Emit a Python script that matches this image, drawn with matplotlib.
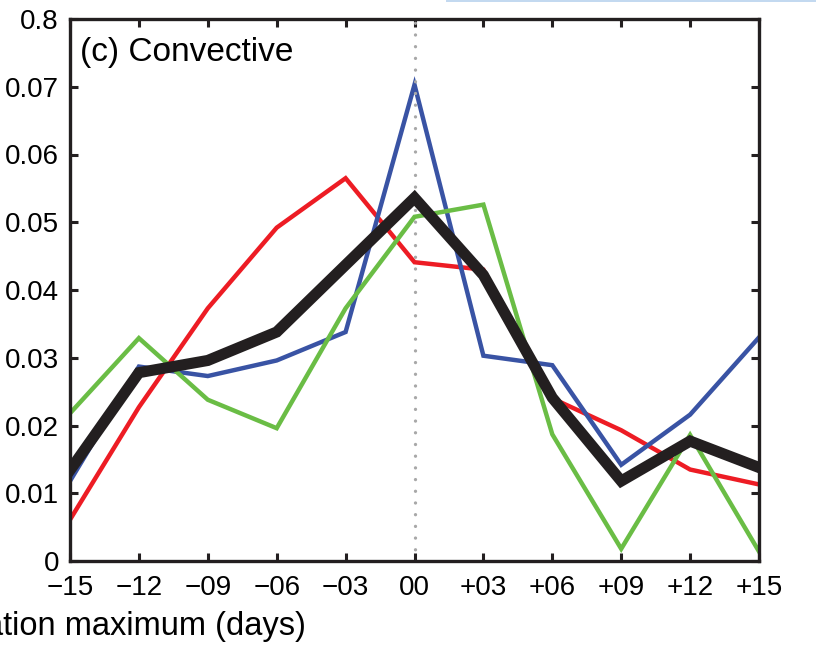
import matplotlib
matplotlib.use("Agg")
import matplotlib.pyplot as plt
from matplotlib.lines import Line2D

plt.rcParams['font.family'] = ['Liberation Sans', 'DejaVu Sans']

# Composite lag (days) relative to the precipitation maximum
days = [-15, -12, -9, -6, -3, 0, 3, 6, 9, 12, 15]
xtick_labels = ['\u221215', '\u221212', '\u221209', '\u221206', '\u221203', '00',
                '+03', '+06', '+09', '+12', '+15']
ytick_values = [0, 0.01, 0.02, 0.03, 0.04, 0.05, 0.06, 0.07, 0.08]
ytick_labels = ['0', '0.01', '0.02', '0.03', '0.04', '0.05', '0.06', '0.07', '0.8']

red_vals = [0.0061, 0.0227, 0.0373, 0.0492, 0.0565, 0.0441, 0.0430, 0.0240, 0.0193, 0.0135, 0.0113]
blue_vals = [0.0118, 0.0287, 0.0273, 0.0296, 0.0338, 0.0703, 0.0303, 0.0289, 0.0142, 0.0216, 0.0330]
green_vals = [0.0218, 0.0329, 0.0238, 0.0196, 0.0373, 0.0508, 0.0526, 0.0187, 0.0018, 0.0186, 0.0014]
mean_vals = [0.0134, 0.0278, 0.0296, 0.0338, 0.0437, 0.0536, 0.0422, 0.0241, 0.0118, 0.0177, 0.0138]

panel_title = '(c) Convective'
xlabel_text = 'ation maximum (days)'

W, H = 816, 645
fig = plt.figure(figsize=(W / 100, H / 100), dpi=100)
ax = fig.add_axes([70 / W, 1 - 561 / H, (759 - 70) / W, (561 - 19) / H])

ax.plot(days, red_vals, color='#ED1C24', lw=3.2, zorder=2, solid_joinstyle='miter')
ax.plot(days, blue_vals, color='#3953A4', lw=3.2, zorder=2.1, solid_joinstyle='miter')
ax.plot(days, green_vals, color='#6ABD45', lw=3.2, zorder=2.2, solid_joinstyle='miter')
ax.axvline(0, color='#a8a8a8', lw=2.4, linestyle=(0, (0.01, 3.5)),
           dash_capstyle='round', zorder=2.5)
ax.plot(days, mean_vals, color='#231F20', lw=8.0, zorder=3, solid_joinstyle='miter')

ax.set_xlim(-15, 15)
ax.set_ylim(0, 0.08)
ax.set_xticks(days)
ax.set_xticklabels(xtick_labels)
ax.set_yticks(ytick_values)
ax.set_yticklabels(ytick_labels)

ax.tick_params(direction='in', length=6, width=2.2, color='#231F20',
               labelsize=20, top=True, right=True)
ax.tick_params(axis='x', pad=10)
ax.tick_params(axis='y', pad=8)
for s in ax.spines.values():
    s.set_linewidth(2.4)
    s.set_color('#231F20')

ax.text(0.014, 0.967, panel_title, transform=ax.transAxes, ha='left', va='top',
        fontsize=24, color='black')

fig.text(306 / W, 1 - 626 / H, xlabel_text, ha='right', va='center', fontsize=23.5)

# Edge of the neighbouring panel frame
fig.add_artist(Line2D([447 / W, 1.0], [1 - 0.8 / H, 1 - 0.8 / H],
                      transform=fig.transFigure, color='#c2d8f0', lw=1.4))

fig.savefig('out.png', dpi=100)
